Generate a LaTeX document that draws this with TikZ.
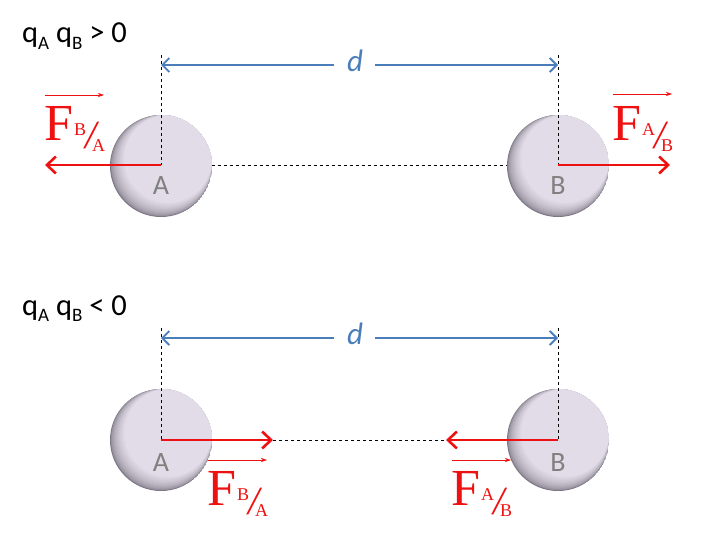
\documentclass[tikz,border=0pt]{standalone}
\usepackage{fontspec}
\setmainfont{Liberation Serif}
\setsansfont{Carlito}
\usetikzlibrary{arrows.meta}
\definecolor{lav}{HTML}{E2DCE8}
\definecolor{lavdark}{HTML}{7C7684}
\definecolor{dblue}{HTML}{4A7EBB}
\definecolor{fred}{HTML}{EE1111}
\newcommand{\frc}[2]{{\fontsize{18}{18}\selectfont\raisebox{5pt}{#1}\kern-1pt\raisebox{-9pt}{\fontsize{40}{40}\selectfont\itshape /}\kern-4pt\raisebox{-11pt}{#2}}}
\newcommand{\Fvec}[2]{{\fontsize{52}{52}\selectfont F}\kern1pt\frc{#1}{#2}}
\newcommand{\qsub}[1]{\raisebox{-0.22em}{\fontsize{19}{19}\selectfont #1}}
\newcommand{\sphereat}[3]{%
  \node[sphere] (#1) at (#2,#3) {};
  \begin{scope}
    \clip (#2,#3) circle (51);
    \foreach \k in {0,...,16} {
      \pgfmathsetmacro{\pc}{100*sqrt(\k/16)}
      \fill[lav!\pc!lavdark] ({#2+0.45*\k},{#3-0.45*\k}) circle ({51-0.45*\k});
    }
  \end{scope}}
\tikzset{
  sphere/.style={circle, minimum size=102pt, inner sep=0pt},
  lett/.style={font=\sffamily\fontsize{28}{28}\selectfont, text=black!50},
  qlab/.style={font=\sffamily\fontsize{30.5}{30.5}\selectfont, anchor=base west, inner sep=0pt},
  dim/.style={draw=dblue, line width=1.8pt, -{Straight Barb[length=7pt,width=14pt,line width=1.8pt]}},
  dlab/.style={font=\sffamily\itshape\fontsize{31}{31}\selectfont, text=dblue},
  guide/.style={draw=black, dashed, line width=0.9pt},
  force/.style={draw=fred, line width=2.8pt, -{Straight Barb[length=9pt,width=17pt,line width=2.6pt]}},
  flab/.style={text=fred, inner sep=0pt, anchor=base west},
  vecar/.style={draw=fred, line width=0.6pt, -{Stealth[length=6pt,width=4pt]}},
}
\begin{document}
\begin{tikzpicture}[x=1pt,y=-1pt]
\useasboundingbox (0,0) rectangle (708,540);
% ---------- top ----------
\node[qlab] (q1) at (22,43) {q\qsub{A} q\qsub{B} > 0};
\sphereat{A1}{161}{166}
\sphereat{B1}{558}{166}
\node[lett] (a1) at (161,186) {A};
\node[lett] (b1) at (558,186) {B};
\coordinate (A1c) at (161,165);
\coordinate (B1c) at (558,165);
\coordinate (A1t) at (161,55);
\coordinate (B1t) at (558,55);
\coordinate (A1e) at (212,165);
\coordinate (B1w) at (507,165);
\draw[guide] (A1t) -- (A1c);
\draw[guide] (B1t) -- (B1c);
\draw[guide] (A1e) -- (B1w);
\node[dlab] (d1) at (355,61) {d};
\coordinate (A1d) at (161,65);
\coordinate (B1d) at (558,65);
\coordinate (d1w) at (334,65);
\coordinate (d1e) at (375,65);
\draw[dim] (d1w) -- (A1d);
\draw[dim] (d1e) -- (B1d);
\coordinate (FA1) at (45,165);
\coordinate (FB1) at (670,165);
\draw[force] (A1c) -- (FA1);
\draw[force] (B1c) -- (FB1);
\node[flab] (lA1) at (44,140) {\Fvec{B}{A}};
\node[flab] (lB1) at (612,140) {\Fvec{A}{B}};
\coordinate (vA1s) at (45,95); \coordinate (vA1e) at (104,95);
\coordinate (vB1s) at (613,94); \coordinate (vB1e) at (672,94);
\draw[vecar] (vA1s) -- (vA1e);
\draw[vecar] (vB1s) -- (vB1e);
% ---------- bottom ----------
\node[qlab] (q2) at (22,315) {q\qsub{A} q\qsub{B} < 0};
\sphereat{A2}{161}{440}
\sphereat{B2}{558}{440}
\node[lett] (a2) at (161,463) {A};
\node[lett] (b2) at (558,463) {B};
\coordinate (A2c) at (161,440);
\coordinate (B2c) at (558,440);
\coordinate (A2t) at (161,328);
\coordinate (B2t) at (558,328);
\draw[guide] (A2t) -- (A2c);
\draw[guide] (B2t) -- (B2c);
\node[dlab] (d2) at (355,334) {d};
\coordinate (A2d) at (161,338);
\coordinate (B2d) at (558,338);
\coordinate (d2w) at (334,338);
\coordinate (d2e) at (375,338);
\draw[dim] (d2w) -- (A2d);
\draw[dim] (d2e) -- (B2d);
\coordinate (FA2) at (273,440);
\coordinate (FB2) at (446,440);
\draw[guide] (FA2) -- (FB2);
\draw[force] (A2c) -- (FA2);
\draw[force] (B2c) -- (FB2);
\node[flab] (lA2) at (207,505) {\Fvec{B}{A}};
\node[flab] (lB2) at (451,505) {\Fvec{A}{B}};
\coordinate (vA2s) at (208,460); \coordinate (vA2e) at (267,460);
\coordinate (vB2s) at (452,460); \coordinate (vB2e) at (511,460);
\draw[vecar] (vA2s) -- (vA2e);
\draw[vecar] (vB2s) -- (vB2e);
\end{tikzpicture}
\end{document}
